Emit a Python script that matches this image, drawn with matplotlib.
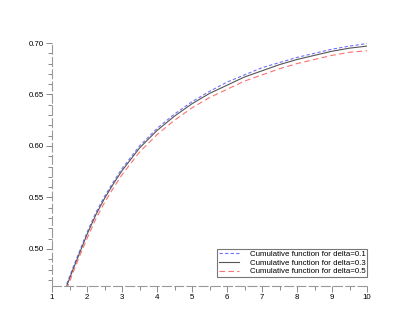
import matplotlib
matplotlib.use("Agg")
import matplotlib.pyplot as plt
from matplotlib.ticker import MultipleLocator

# values
x = [1.42, 1.6, 1.8, 2.0, 2.25, 2.5, 2.75, 3.0, 3.5, 4.0, 4.5, 5.0,
     5.5, 6.0, 6.5, 7.0, 7.5, 8.0, 8.5, 9.0, 9.5, 10.0]
y_d01 = [0.466, 0.482, 0.499, 0.516, 0.535, 0.551, 0.565, 0.578, 0.600, 0.617, 0.631, 0.643,
         0.653, 0.662, 0.669, 0.676, 0.681, 0.686, 0.690, 0.694, 0.697, 0.6995]
y_d03 = [0.464, 0.480, 0.497, 0.514, 0.533, 0.549, 0.563, 0.576, 0.598, 0.615, 0.629, 0.641,
         0.651, 0.659, 0.667, 0.673, 0.679, 0.684, 0.688, 0.692, 0.695, 0.697]
y_d05 = [0.461, 0.477, 0.494, 0.510, 0.529, 0.545, 0.559, 0.572, 0.594, 0.611, 0.625, 0.637,
         0.647, 0.655, 0.663, 0.669, 0.675, 0.680, 0.684, 0.688, 0.691, 0.6925]
labels = ["Cumulative function for delta=0.1",
          "Cumulative function for delta=0.3",
          "Cumulative function for delta=0.5"]

plt.rcParams["font.family"] = ["Liberation Sans", "DejaVu Sans"]
plt.rcParams["font.size"] = 5.7

fig = plt.figure(figsize=(4.2, 3.27), dpi=100)
ax = fig.add_axes([52/420, 41/327, 315/420, 243/327])

ax.plot(x, y_d01, color="#7070ff", lw=0.8, ls=(0, (3, 2)), label=labels[0])
ax.plot(x, y_d03, color="#555555", lw=0.8, ls="-", label=labels[1])
ax.plot(x, y_d05, color="#ff7070", lw=0.8, ls=(0, (5, 3)), label=labels[2])

ax.set_xlim(1, 10)
ax.set_ylim(0.464, 0.70)
ax.xaxis.set_major_locator(MultipleLocator(1))
ax.xaxis.set_minor_locator(MultipleLocator(0.5))
ax.yaxis.set_major_locator(MultipleLocator(0.05))
ax.yaxis.set_minor_locator(MultipleLocator(0.01))
ax.yaxis.set_major_formatter(matplotlib.ticker.FormatStrFormatter("%.2f"))

for s in ["top", "right"]:
    ax.spines[s].set_visible(False)
for s in ["left", "bottom"]:
    ax.spines[s].set_color("#999999")
    ax.spines[s].set_linewidth(0.8)
    ax.spines[s].set_linestyle((0, (8, 3)))

ax.tick_params(which="major", length=4, width=0.6, color="#777777", pad=2)
ax.tick_params(which="minor", length=3, width=0.6, color="#777777")

leg = ax.legend(loc="lower right", bbox_to_anchor=(1.0, 0.037), fancybox=False,
                edgecolor="#777777", framealpha=1, handlelength=2.6,
                handletextpad=1.3, labelspacing=0.15, borderpad=0.2,
                borderaxespad=0)
leg.get_frame().set_linewidth(0.8)

fig.savefig("out.png", dpi=100)
